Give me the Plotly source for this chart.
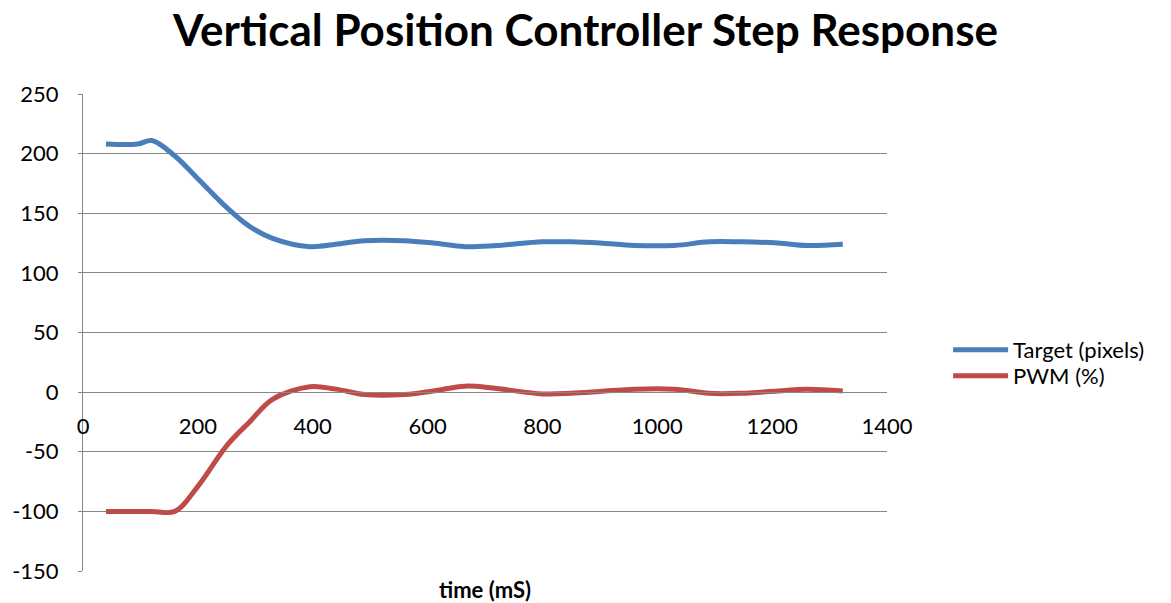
import plotly.graph_objects as go

time_ms = [40, 95, 120, 160, 200, 250, 290, 330, 395, 440, 490, 560, 610, 665, 720,
           800, 850, 900, 960, 1030, 1090, 1145, 1210, 1260, 1323]
target_px = [208, 208, 211, 198, 179, 155, 139, 129, 122, 124, 127, 127, 125, 122, 123,
             126, 126, 125, 123, 123, 126, 126, 125, 123, 124]
pwm_pct = [-100, -100, -100, -100, -79, -45, -25, -6, 4.5, 2.5, -2, -2, 1, 5, 3,
           -1.5, -1, 0.5, 2.5, 2.5, -1, -1, 1, 2.5, 1]

x_ticks = [0, 200, 400, 600, 800, 1000, 1200, 1400]
y_ticks = [-150, -100, -50, 0, 50, 100, 150, 200, 250]

FONT = "Lato"
GRID = "#878787"

fig = go.Figure()
fig.add_trace(go.Scatter(x=time_ms, y=target_px, mode="lines", name="Target (pixels)",
                         legend="legend",
                         line=dict(color="#4A7EBB", width=5, shape="spline", smoothing=1)))
fig.add_trace(go.Scatter(x=time_ms, y=pwm_pct, mode="lines", name="PWM (%)",
                         legend="legend2",
                         line=dict(color="#BE4B48", width=5, shape="spline", smoothing=1)))

leg_common = dict(xanchor="left", yanchor="middle", font=dict(family=FONT, size=22),
                  itemwidth=55, bgcolor="rgba(0,0,0,0)")

fig.update_layout(
    width=1171, height=603,
    margin=dict(l=83, r=284, t=94, b=32, autoexpand=False),
    paper_bgcolor="white", plot_bgcolor="white",
    font=dict(family=FONT, color="#000000", size=20),
    title=dict(text="<b>Vertical Position Controller Step Response</b>",
               x=0.5, xanchor="center", y=0.9486, yanchor="middle",
               font=dict(family=FONT, size=44, color="#000000")),
    showlegend=True,
    legend=dict(x=1.076, y=0.4633, **leg_common),
    legend2=dict(x=1.076, y=0.4088, **leg_common),
    xaxis=dict(range=[0, 1400], tickvals=x_ticks, ticktext=[str(v) for v in x_ticks],
               showgrid=False, zeroline=False, showline=True, linecolor=GRID, linewidth=1,
               ticks="outside", ticklen=5, tickcolor="rgba(0,0,0,0)", anchor="free",
               position=0.375, ticklabelstandoff=9, tickfont=dict(family=FONT, size=22)),
    yaxis=dict(range=[-150, 250], tickvals=y_ticks, ticktext=[str(v) for v in y_ticks],
               showgrid=True, gridcolor=GRID, gridwidth=1, zeroline=False,
               showline=True, linecolor=GRID, linewidth=1,
               ticks="outside", ticklen=4, tickcolor=GRID,
               ticklabelstandoff=15, tickfont=dict(family=FONT, size=22)),
    annotations=[dict(text="<b>time (mS)</b>", x=0.5, xref="paper", y=-0.038, yref="paper",
                      xanchor="center", yanchor="middle", showarrow=False,
                      font=dict(family=FONT, size=22))],
)

fig.write_html("out.html", config={"displayModeBar": False},
               post_script="document.body.style.margin='0';")
